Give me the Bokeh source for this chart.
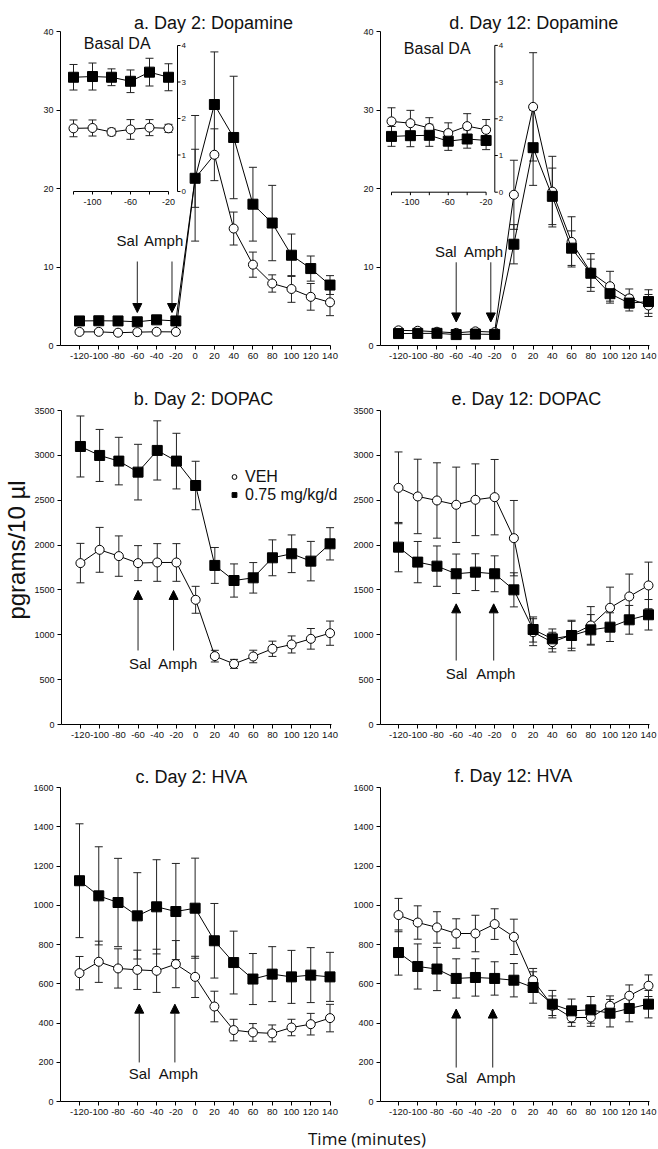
import numpy as np
from bokeh.plotting import figure
from bokeh.models import (Range1d, FixedTicker, Arrow, NormalHead,
                          Legend, LegendItem, Div)
from bokeh.layouts import column, row
from bokeh.embed import file_html
from bokeh.resources import INLINE
from bokeh.core.properties import value

FONT = "Liberation Sans"

# ---------------- data ----------------
time_min = [-120, -100, -80, -60, -40, -20, 0, 20, 40, 60, 80, 100, 120, 140]
time_labels = ["-120", "-100", "-80", "-60", "-40", "-20", "0", "20", "40",
               "60", "80", "100", "120", "140"]
basal_n = 6  # first six samples are the basal points shown in the insets
inset_xticks = [-120, -100, -80, -60, -40, -20]
inset_xlabels = [-100, -60, -20]
inset_yticks = [0, 1, 2, 3, 4]

# a. Day 2: Dopamine
a_veh = [1.73, 1.74, 1.63, 1.70, 1.75, 1.73, 21.3, 24.3, 14.9, 10.3, 7.9, 7.2, 6.2, 5.5]
a_veh_sem = [0.23, 0.22, 0.10, 0.27, 0.22, 0.11, 3.7, 3.3, 2.1, 1.6, 1.1, 1.7, 1.7, 1.7]
a_drug = [3.13, 3.15, 3.13, 3.02, 3.27, 3.13, 21.3, 30.7, 26.5, 18.0, 15.6, 11.5, 9.8, 7.7]
a_drug_sem = [0.35, 0.37, 0.23, 0.31, 0.38, 0.37, 8.0, 6.7, 7.8, 4.7, 4.8, 2.7, 1.6, 1.2]

# d. Day 12: Dopamine
d_veh = [1.93, 1.88, 1.75, 1.61, 1.80, 1.70, 19.2, 30.4, 19.6, 13.2, 9.3, 7.55, 6.0, 5.1]
d_veh_sem = [0.37, 0.35, 0.28, 0.28, 0.34, 0.28, 4.4, 6.9, 4.5, 3.2, 2.4, 1.9, 1.2, 1.4]
d_drug = [1.52, 1.54, 1.55, 1.39, 1.45, 1.41, 12.9, 25.2, 19.0, 12.4, 9.2, 6.6, 5.4, 5.6]
d_drug_sem = [0.27, 0.30, 0.30, 0.25, 0.25, 0.25, 2.5, 4.8, 3.6, 2.2, 1.8, 1.2, 1.0, 1.5]

# b. Day 2: DOPAC
b_veh = [1799, 1947, 1877, 1799, 1806, 1806, 1390, 762, 676, 758, 844, 892, 955, 1018]
b_veh_sem = [220, 250, 225, 195, 210, 210, 150, 65, 50, 70, 85, 95, 115, 135]
b_drug = [3099, 2999, 2936, 2813, 3055, 2936, 2664, 1773, 1605, 1635, 1858, 1903, 1821, 2014]
b_drug_sem = [340, 290, 265, 310, 330, 310, 270, 200, 185, 170, 200, 210, 220, 180]

# e. Day 12: DOPAC
e_veh = [2638, 2542, 2497, 2449, 2505, 2534, 2077, 1029, 918, 1000, 1104, 1301, 1427, 1550]
e_veh_sem = [400, 415, 420, 420, 400, 420, 420, 150, 110, 150, 210, 230, 250, 260]
e_drug = [1977, 1810, 1765, 1680, 1698, 1680, 1501, 1059, 955, 992, 1055, 1085, 1167, 1223]
e_drug_sem = [275, 230, 225, 220, 205, 200, 190, 140, 110, 170, 170, 160, 160, 170]

# c. Day 2: HVA
c_veh = [654, 712, 678, 671, 666, 700, 635, 484, 364, 352, 347, 377, 394, 425]
c_veh_sem = [85, 105, 100, 100, 110, 120, 105, 78, 55, 45, 43, 42, 55, 70]
c_drug = [1125, 1048, 1014, 946, 992, 968, 985, 819, 708, 624, 649, 635, 644, 635]
c_drug_sem = [290, 250, 225, 220, 240, 245, 255, 190, 160, 130, 140, 135, 140, 125]

# f. Day 12: HVA
f_veh = [950, 912, 887, 856, 856, 904, 839, 618, 488, 428, 428, 488, 539, 590]
f_veh_sem = [85, 85, 80, 75, 93, 78, 90, 60, 50, 45, 45, 50, 55, 55]
f_drug = [759, 688, 675, 627, 632, 627, 618, 581, 496, 462, 467, 450, 474, 496]
f_drug_sem = [115, 115, 110, 100, 95, 85, 85, 80, 70, 60, 68, 70, 68, 70]

titles = {"a": "a. Day 2: Dopamine", "d": "d. Day 12: Dopamine",
          "b": "b. Day 2: DOPAC", "e": "e. Day 12: DOPAC",
          "c": "c. Day 2: HVA", "f": "f. Day 12: HVA"}
legend_labels = ["VEH", "0.75 mg/kg/d"]
inj_labels = ["Sal", "Amph"]
y_axis_title = "pgrams/10 \u00b5l"
x_axis_title = "Time (minutes)"

# injection arrows: x positions, arrow tail y, arrow tip y, label y (data units)
arrow_x = {"a": [-60, -24], "d": [-60, -24], "b": [-60, -23],
           "e": [-60, -21], "c": [-58, -21], "f": [-60, -22]}
arrow_y = {"a": (10.7, 4.2), "d": (10.6, 3.0), "b": (825, 1494),
           "e": (713, 1345), "c": (199, 496), "f": (173, 471)}
label_y = {"a": 13.4, "d": 12.0, "b": 676, "e": 565, "c": 144, "f": 122}
label_x = {"a": ((-59, "right"), (-53, "left")),
           "d": ((-59.5, "right"), (-52, "left")),
           "b": ((-58, "center"), (-18.6, "center")),
           "e": ((-59.6, "center"), (-18.8, "center")),
           "c": ((-57.6, "center"), (-17.3, "center")),
           "f": ((-59.6, "center"), (-18.6, "center"))}

# ---------------- layout (page pixels) ----------------
COLS = {"L": dict(x0=0, w=340, axis=60, px_m120=79.0, pxu=0.9635),
        "R": dict(x0=340, w=318, axis=380, px_m120=398.0, pxu=0.9615)}
ROWS = [dict(y0=0, h=375, top_val_px=31, zero_px=345),
        dict(y0=375, h=380, top_val_px=410, zero_px=724),
        dict(y0=755, h=366, top_val_px=787, zero_px=1101)]
title_px = {"a": (213, 22.3), "d": (533.3, 22.3), "b": (202.5, 398.3),
            "e": (525.8, 398.3), "c": (190.8, 776.7), "f": (512.8, 775.0)}


class Panel:
    def __init__(self, col, rw, ymax, ystep):
        self.c, self.r, self.ymax = col, rw, ymax
        fw = col["x0"] + col["w"] - col["axis"]
        self.x_start = -120 - (col["px_m120"] - col["axis"]) / col["pxu"]
        x_end = self.x_start + fw / col["pxu"]
        self.syu = (rw["zero_px"] - rw["top_val_px"]) / ymax  # px per unit
        fh = rw["zero_px"] - rw["y0"]
        y_end = fh / self.syu
        bb = rw["y0"] + rw["h"] - rw["zero_px"]
        p = figure(width=col["w"], height=rw["h"],
                   x_range=Range1d(self.x_start, x_end),
                   y_range=Range1d(0, y_end), output_backend="svg",
                   toolbar_location=None, tools="",
                   min_border_left=col["axis"] - col["x0"], min_border_right=0,
                   min_border_top=0, min_border_bottom=bb)
        p.grid.visible = False
        p.outline_line_color = None
        for ax in (p.xaxis[0], p.yaxis[0]):
            ax.axis_line_color = "black"
            ax.axis_line_width = 1
            ax.major_tick_line_color = "black"
            ax.major_tick_out = 4
            ax.major_tick_in = 0
            ax.minor_tick_line_color = None
            ax.major_label_text_font = FONT
            ax.major_label_text_color = "#111111"
            ax.major_label_standoff = 3
        p.xaxis.ticker = FixedTicker(ticks=time_min)
        p.xaxis.major_label_overrides = dict(zip(time_min, time_labels))
        p.xaxis.bounds = (self.x_start, time_min[-1] + 1)
        p.xaxis.major_label_text_font_size = "9.5px"
        p.yaxis.ticker = FixedTicker(ticks=list(range(0, ymax + 1, ystep)))
        p.yaxis.bounds = (0, ymax)
        p.yaxis.major_label_text_font_size = "9px"
        self.p = p

    def x(self, px):
        return self.x_start + (px - self.c["axis"]) / self.c["pxu"]

    def y(self, py):
        return (self.r["zero_px"] - py) / self.syu


def draw_bars(p, x, y, sem, **kw):
    up = [v + s for v, s in zip(y, sem)]
    lo = [v - s for v, s in zip(y, sem)]
    p.segment(x0=x, y0=lo, x1=x, y1=up, line_color="#222222", line_width=1, **kw)
    p.scatter(list(x) + list(x), up + lo, marker="dash", size=8,
              line_color="#222222", line_width=1, **kw)


def draw_series(p, x, y, marker, size, fill, **kw):
    p.line(x, y, line_color="black", line_width=1, **kw)
    return p.scatter(x, y, marker=marker, size=size, fill_color=fill,
                     line_color="black", line_width=1, **kw)


def text(p, x, y, s, size, align="center", **kw):
    p.text(x, y, text=s, text_font=value(FONT), text_font_size=size,
           text_align=align, text_baseline="middle", text_color="#111111", **kw)


def panel(key, col, rw, ymax, ystep, veh, veh_sem, drug, drug_sem):
    P = Panel(col, rw, ymax, ystep)
    p = P.p
    draw_bars(p, time_min, veh, veh_sem)
    draw_bars(p, time_min, drug, drug_sem)
    rv = draw_series(p, time_min, veh, "circle", 9, "white")
    rd = draw_series(p, time_min, drug, "square", 10, "black")
    tx, ty = title_px[key]
    text(p, [P.x(tx)], [P.y(ty)], [titles[key]], "18px")
    y0, y1 = arrow_y[key]
    for ax_ in arrow_x[key]:
        p.add_layout(Arrow(x_start=ax_, y_start=y0, x_end=ax_, y_end=y1,
                           line_color="#222222", line_width=1,
                           end=NormalHead(size=9, fill_color="black",
                                          line_color="black", line_width=1)))
    for (lx, al), lab in zip(label_x[key], inj_labels):
        text(p, [lx], [label_y[key]], [lab], "15px", al)
    return P, rv, rd


def add_inset(P, veh, veh_sem, drug, drug_sem, x0px, pxu, y0px, pyu, yaxpx,
              basal_px):
    p = P.p
    fw = P.c["x0"] + P.c["w"] - P.c["axis"]
    fh = P.r["zero_px"] - P.r["y0"]
    ixs = -120 - (x0px - P.c["axis"]) / pxu
    iys = -(P.r["zero_px"] - y0px) / pyu
    p.extra_x_ranges = {"ix": Range1d(ixs, ixs + fw / pxu)}
    p.extra_y_ranges = {"iy": Range1d(iys, iys + fh / pyu)}
    kw = dict(x_range_name="ix", y_range_name="iy")
    ix = lambda px: ixs + (px - P.c["axis"]) / pxu
    iy = lambda py: (y0px - py) / pyu
    bx = time_min[:basal_n]
    yax = ix(yaxpx)
    n = len(inset_xticks)
    p.segment(x0=[inset_xticks[0]], y0=[0], x1=[inset_xticks[-1]], y1=[0],
              line_color="black", line_width=1, **kw)
    p.segment(x0=inset_xticks, y0=[0] * n, x1=inset_xticks,
              y1=[-3 / pyu] * n, line_color="black", **kw)
    text(p, inset_xlabels, [-10 / pyu] * len(inset_xlabels),
         [str(v) for v in inset_xlabels], "9px", **kw)
    m = len(inset_yticks)
    p.segment(x0=[yax], y0=[inset_yticks[0]], x1=[yax], y1=[inset_yticks[-1]],
              line_color="black", line_width=1, **kw)
    p.segment(x0=[yax] * m, y0=inset_yticks, x1=[yax + 3 / pxu] * m,
              y1=inset_yticks, line_color="black", **kw)
    text(p, [yax + 4 / pxu] * m, inset_yticks, [str(v) for v in inset_yticks],
         "8px", "left", **kw)
    draw_bars(p, bx, veh[:basal_n], veh_sem[:basal_n], **kw)
    draw_bars(p, bx, drug[:basal_n], drug_sem[:basal_n], **kw)
    draw_series(p, bx, veh[:basal_n], "circle", 9, "white", **kw)
    draw_series(p, bx, drug[:basal_n], "square", 10, "black", **kw)
    text(p, [ix(basal_px[0])], [iy(basal_px[1])], ["Basal DA"], "16px", **kw)


Pa, _, _ = panel("a", COLS["L"], ROWS[0], 40, 10, a_veh, a_veh_sem, a_drug, a_drug_sem)
add_inset(Pa, a_veh, a_veh_sem, a_drug, a_drug_sem, 73, 0.95, 191, 36.5, 177,
          (116.7, 43.3))
Pd, _, _ = panel("d", COLS["R"], ROWS[0], 40, 10, d_veh, d_veh_sem, d_drug, d_drug_sem)
add_inset(Pd, d_veh, d_veh_sem, d_drug, d_drug_sem, 391, 0.946, 191.7, 36.7, 494.3,
          (436.7, 48.3))
Pb, rvb, rdb = panel("b", COLS["L"], ROWS[1], 3500, 500, b_veh, b_veh_sem,
                     b_drug, b_drug_sem)
Pe, _, _ = panel("e", COLS["R"], ROWS[1], 3500, 500, e_veh, e_veh_sem, e_drug, e_drug_sem)
Pc, _, _ = panel("c", COLS["L"], ROWS[2], 1600, 200, c_veh, c_veh_sem, c_drug, c_drug_sem)
Pf, _, _ = panel("f", COLS["R"], ROWS[2], 1600, 200, f_veh, f_veh_sem, f_drug, f_drug_sem)

# legend in panel b
leg = Legend(items=[LegendItem(label=legend_labels[0], renderers=[rvb]),
                    LegendItem(label=legend_labels[1], renderers=[rdb])],
             location=(167, Pb.r["zero_px"] - 503.5), border_line_color=None,
             background_fill_alpha=0, label_text_font=FONT,
             label_text_font_size="16px", label_height=17, glyph_height=17,
             glyph_width=12, label_standoff=5, spacing=0, padding=0, margin=0,
             label_text_color="#111111")
Pb.p.add_layout(leg)

# y axis title on panel b
Pb.p.yaxis.axis_label = y_axis_title
Pb.p.yaxis.axis_label_text_font = FONT
Pb.p.yaxis.axis_label_text_font_size = "24px"
Pb.p.yaxis.axis_label_text_font_style = "normal"
Pb.p.yaxis.axis_label_text_color = "#111111"
Pb.p.yaxis.axis_label_standoff = 1

xlabel = Div(text='<div style="padding-left:303px;padding-top:2px;font-family:\'Open Sans\',sans-serif;'
                  'font-size:17px;line-height:22px;white-space:nowrap;color:#111">'
                  + x_axis_title + '</div>', width=658, height=28)

layout = column(row(Pa.p, Pd.p), row(Pb.p, Pe.p), row(Pc.p, Pf.p), xlabel)
open("out.html", "w").write(file_html(layout, INLINE, title="Figure"))
